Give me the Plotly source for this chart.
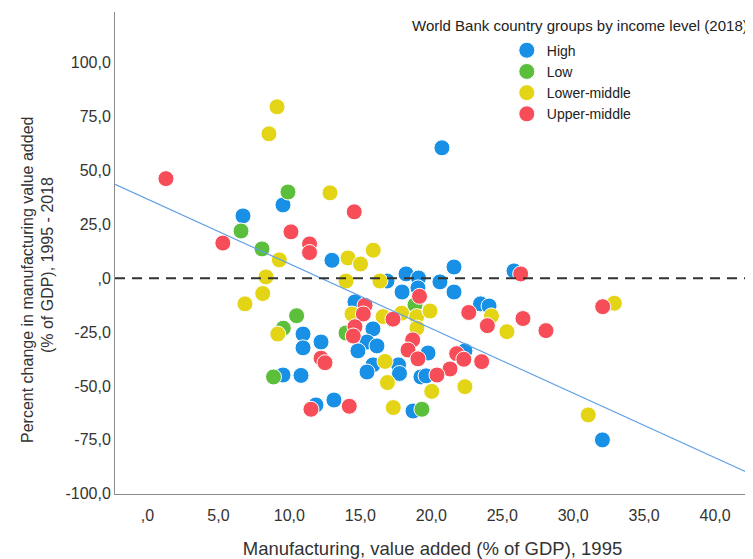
import plotly.graph_objects as go

# ---- data ----
HIGH_X = [20.75, 9.55, 6.73, 13.0, 21.6, 18.22, 19.1, 20.61, 16.88, 25.83, 17.94, 19.06, 21.6,
          14.62, 23.47, 24.07, 10.96, 12.23, 10.96, 15.89, 15.47, 16.17, 14.83, 15.89, 15.47,
          17.69, 17.76, 19.77, 22.37, 19.27, 19.63, 9.55, 10.82, 11.87, 13.14, 18.71, 32.06]
HIGH_Y = [60.5, 34.0, 28.9, 8.3, 5.2, 2.0, 0.1, -1.7, -1.3, 3.4, -6.4, -4.5, -6.4,
          -11.0, -11.9, -12.9, -25.9, -29.6, -32.3, -23.5, -29.6, -31.4, -33.7, -40.2, -43.5,
          -40.2, -44.2, -34.7, -33.7, -45.8, -45.3, -44.9, -45.1, -58.8, -56.5, -61.6, -75.0]

LOW_X = [9.9, 6.59, 8.07, 10.51, 9.57, 8.88, 13.99, 19.34, 18.85]
LOW_Y = [40.0, 21.9, 13.6, -17.4, -23.2, -45.8, -25.4, -60.8, -12.4]

LOWER_MID_X = [9.13, 8.56, 12.86, 9.29, 14.13, 15.01, 15.91, 8.35, 8.12, 6.87, 13.99, 16.38,
               9.18, 14.41, 16.6, 17.91, 18.97, 19.91, 18.99, 16.74, 16.91, 20.03, 22.37, 17.32,
               24.24, 25.33, 32.9, 31.06]
LOWER_MID_Y = [79.5, 67.0, 39.6, 8.5, 9.4, 6.6, 13.0, 0.6, -7.1, -11.9, -1.3, -1.3,
               -25.9, -16.6, -17.8, -16.2, -17.8, -15.2, -23.1, -38.6, -48.4, -52.5, -50.3, -60.0,
               -17.5, -24.8, -11.6, -63.4]

UPPER_MID_X = [1.3, 5.31, 10.11, 11.42, 11.42, 14.57, 26.3, 19.17, 15.33, 15.21, 14.62, 14.5,
               17.3, 18.69, 18.36, 19.06, 12.23, 12.51, 11.52, 14.22, 22.64, 23.95, 26.46, 28.08,
               32.08, 21.79, 22.29, 23.55, 21.32, 20.4]
UPPER_MID_Y = [46.2, 16.3, 21.5, 15.9, 11.9, 30.8, 2.0, -8.4, -12.6, -16.6, -22.5, -26.8,
               -19.0, -28.6, -33.3, -37.4, -37.1, -39.2, -60.8, -59.4, -15.9, -22.0, -18.7, -24.3,
               -13.2, -35.0, -37.6, -38.7, -42.1, -44.9]

GROUPS = ["High", "Low", "Lower-middle", "Upper-middle"]
COLORS = ["#1790e6", "#5bbf3b", "#e3d515", "#f74d59"]

# fit line
FIT_INTERCEPT = 36.7
FIT_SLOPE = -3.0

X_RANGE = [-2.29, 42.46]
Y_RANGE = [-100.1, 123.5]
X_TICKS = [0, 5, 10, 15, 20, 25, 30, 35, 40]
X_TICKTEXT = [",0", "5,0", "10,0", "15,0", "20,0", "25,0", "30,0", "35,0", "40,0"]
Y_TICKS = [-100, -75, -50, -25, 0, 25, 50, 75, 100]
Y_TICKTEXT = ["-100,0", "-75,0", "-50,0", "-25,0", ",0", "25,0", "50,0", "75,0", "100,0"]

X_TITLE = "Manufacturing, value added (% of GDP), 1995"
Y_TITLE_LINE1 = "Percent change in manufacturing value added"
Y_TITLE_LINE2 = "(% of GDP), 1995 - 2018"
LEGEND_TITLE = "World Bank country groups by income level (2018)"

FONT = "Liberation Sans, Arial, sans-serif"

fig = go.Figure()
series = [(HIGH_X, HIGH_Y), (LOW_X, LOW_Y), (LOWER_MID_X, LOWER_MID_Y), (UPPER_MID_X, UPPER_MID_Y)]
for name, color, (xs, ys) in zip(GROUPS, COLORS, series):
    fig.add_trace(go.Scatter(
        x=xs, y=ys, mode="markers", name=name,
        marker=dict(size=16, color=color, line=dict(color="white", width=1)),
    ))

fit_x = X_RANGE
fit_y = [FIT_INTERCEPT + FIT_SLOPE * v for v in fit_x]
fig.add_trace(go.Scatter(x=fit_x, y=fit_y, mode="lines", showlegend=False,
                         line=dict(color="#5f9fe6", width=1.2), hoverinfo="skip"))

fig.add_shape(type="line", xref="paper", x0=0, x1=1, yref="y", y0=0, y1=0,
              line=dict(color="#333333", width=2, dash="10px,7px"), layer="above")

fig.add_annotation(text=LEGEND_TITLE,
                   xref="paper", yref="paper", x=1.0, y=0.971, xanchor="right", yanchor="middle",
                   showarrow=False, font=dict(family=FONT, size=15, color="#222222"))

fig.add_annotation(text=Y_TITLE_LINE1, textangle=-90,
                   xref="paper", yref="paper", x=-0.137, y=0.444, xanchor="center", yanchor="middle",
                   showarrow=False, font=dict(family=FONT, size=16, color="#333333"))
fig.add_annotation(text=Y_TITLE_LINE2, textangle=-90,
                   xref="paper", yref="paper", x=-0.107, y=0.475, xanchor="center", yanchor="middle",
                   showarrow=False, font=dict(family=FONT, size=16, color="#333333"))

# The page body adds an 8px offset; the figure is sized so the plot area lands at
# page x 115..750, y 12..494.
fig.update_layout(
    width=745, height=551,
    margin=dict(l=107, r=3, t=4, b=65),
    paper_bgcolor="white", plot_bgcolor="white",
    font=dict(family=FONT, color="#222222"),
    legend=dict(x=0.617, xanchor="left", y=0.953, yanchor="top",
                bgcolor="rgba(0,0,0,0)", font=dict(family=FONT, size=14, color="#222222"),
                tracegroupgap=0, itemsizing="trace"),
    xaxis=dict(range=X_RANGE, tickvals=X_TICKS, ticktext=X_TICKTEXT, showgrid=False, zeroline=False,
               showline=True, linecolor="#8c8c8c", linewidth=1, ticks="", automargin=False,
               tickfont=dict(family=FONT, size=16, color="#333333"), ticklabelstandoff=7,
               title=dict(text=X_TITLE, font=dict(family=FONT, size=18.5, color="#333333"), standoff=20)),
    yaxis=dict(range=Y_RANGE, tickvals=Y_TICKS, ticktext=Y_TICKTEXT, showgrid=False, zeroline=False,
               showline=True, linecolor="#8c8c8c", linewidth=1, ticks="", automargin=False,
               tickfont=dict(family=FONT, size=16, color="#333333"), ticklabelstandoff=0),
)

fig.write_html("out.html")
